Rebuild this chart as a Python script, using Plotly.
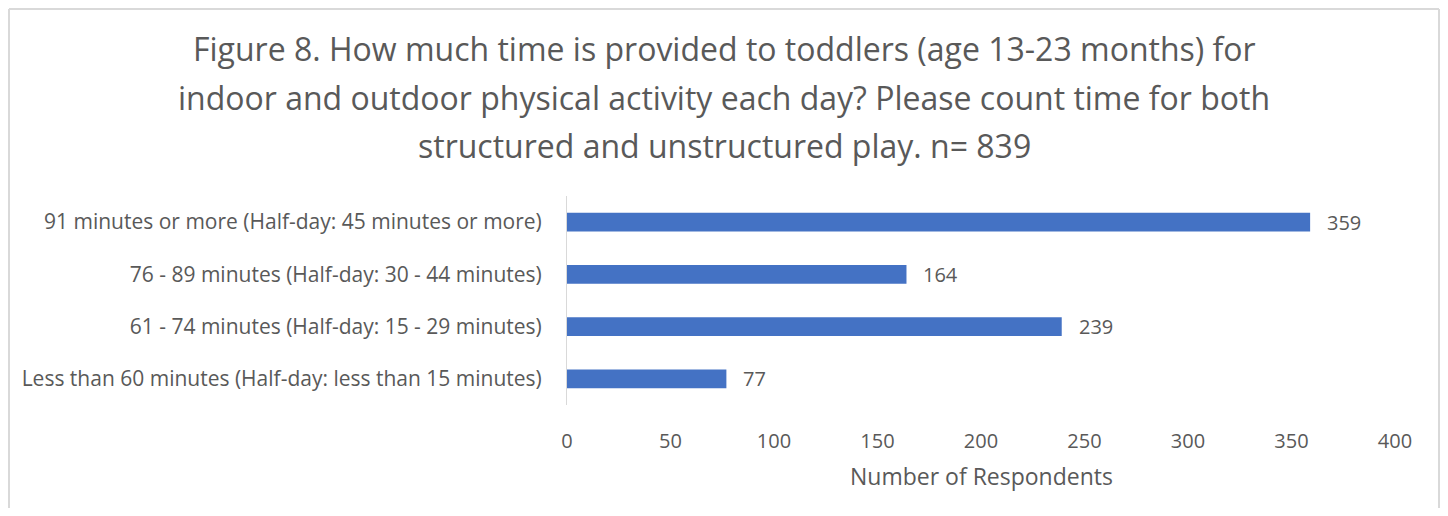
import plotly.graph_objects as go

categories = [
    "Less than 60 minutes (Half-day: less than 15 minutes)",
    "61 - 74 minutes (Half-day: 15 - 29 minutes)",
    "76 - 89 minutes (Half-day: 30 - 44 minutes)",
    "91 minutes or more (Half-day: 45 minutes or more)",
]
values = [77, 239, 164, 359]
x_ticks = [0, 50, 100, 150, 200, 250, 300, 350, 400]
title_lines = [
    "Figure 8. How much time is provided to toddlers (age 13-23 months) for",
    "indoor and outdoor physical activity each day? Please count time for both",
    "structured and unstructured play. n= 839",
]

OFF = 8  # page body margin
W, H = 1448 - 2 * OFF, 516 - 2 * OFF
L, R, T, B = 567 - OFF, 1395 - OFF, 196 - OFF, 405 - OFF
TXT = "#595959"
FONT = "Open Sans"

def px_x(p):
    return (p - OFF - L) / (R - L)

def px_y(p):
    return (B - (p - OFF)) / (B - T)

fig = go.Figure()
fig.add_trace(go.Bar(
    x=values, y=categories, orientation="h",
    marker=dict(color="#4472C4", line=dict(width=0)),
    hoverinfo="skip",
))

annotations = []
for v, c in zip(values, categories):
    annotations.append(dict(x=v, y=c, xref="x", yref="y", text=str(v), showarrow=False,
                            xanchor="left", xshift=15, font=dict(family=FONT, size=20, color=TXT)))
for i, line in enumerate(title_lines):
    ys = [48, 97, 145][i]
    annotations.append(dict(x=px_x(724), y=px_y(ys), xref="paper", yref="paper", text=line,
                            showarrow=False, xanchor="center", yanchor="middle",
                            font=dict(family=FONT, size=32, color=TXT)))
annotations.append(dict(x=0.5, y=px_y(476), xref="paper", yref="paper", text="Number of Respondents",
                        showarrow=False, xanchor="center", yanchor="middle",
                        font=dict(family=FONT, size=23, color=TXT)))

border = dict(color="#D9D9D9", width=2)
bx0, bx1, by0, by1 = px_x(OFF + 1), px_x(OFF + W - 1), px_y(OFF + H + 5), px_y(OFF + 1)
shapes = [
    dict(type="line", xref="paper", yref="paper", x0=bx0, x1=bx0, y0=by0, y1=by1, line=border, layer="below"),
    dict(type="line", xref="paper", yref="paper", x0=bx1, x1=bx1, y0=by0, y1=by1, line=border, layer="below"),
    dict(type="line", xref="paper", yref="paper", x0=bx0, x1=bx1, y0=by1, y1=by1, line=border, layer="below"),
]

fig.update_layout(
    width=W, height=H,
    margin=dict(l=L, r=W - R, t=T, b=H - B, pad=0),
    paper_bgcolor="white", plot_bgcolor="white",
    showlegend=False,
    bargap=0.64,
    font=dict(family=FONT, color=TXT),
    annotations=annotations,
    shapes=shapes,
    xaxis=dict(range=[0, 400], tickvals=x_ticks, showgrid=False, zeroline=False, showline=False,
               ticks="outside", ticklen=18, tickcolor="rgba(0,0,0,0)",
               tickfont=dict(family=FONT, size=20, color=TXT), fixedrange=True),
    yaxis=dict(showgrid=False, zeroline=False, showline=True, linecolor="#D9D9D9", linewidth=1,
               ticks="outside", ticklen=20, tickcolor="rgba(0,0,0,0)",
               tickfont=dict(family=FONT, size=21, color=TXT), fixedrange=True),
)

fig.write_html("out.html")
